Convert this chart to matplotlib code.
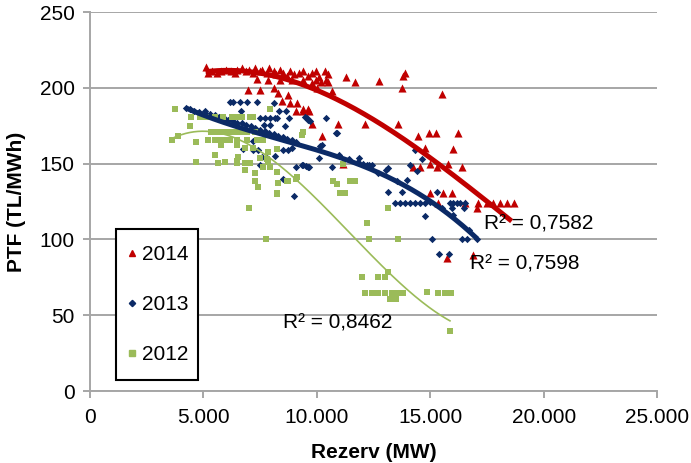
import numpy as np
import matplotlib
matplotlib.use("Agg")
import matplotlib.pyplot as plt
from matplotlib.lines import Line2D
from matplotlib.patches import Rectangle

plt.rcParams['font.family'] = ['Liberation Sans', 'DejaVu Sans']

# ---- data (Rezerv MW, PTF TL/MWh) ----
x2014 = [5100, 5200, 5400, 5600, 5800, 6000, 6200, 6400, 6500, 6700, 6900, 7000, 7200, 7300, 7500,
         7600, 7800, 7900, 8100, 8200, 8400, 8500, 8700, 8800, 9000, 9200, 9400, 9600, 9800, 9960,
         10100, 10360, 10500,
         7350, 7850, 8380, 8910, 9390, 9780, 9960, 10180, 10410, 10490,
         6970, 7500, 8110, 8290, 8730, 8450, 8820, 9110, 9080, 9380, 9640, 9790, 10230, 10010, 10650,
         11270, 11700, 12730, 13890, 13820, 13740, 15500, 9400, 9630, 10920, 12130, 13590, 14470,
         14950, 15240, 16230, 16010, 14770, 14250, 14550, 14990, 15290, 15800, 16390, 11160,
         14990, 15580, 15940, 15360, 16530, 17120, 17490, 17780, 18080, 18370, 18700, 17060,
         15730, 16890]
y2014 = [214, 210, 211, 210, 211, 212, 211, 210, 212, 213, 211, 212, 210, 213, 211,
         212, 210, 213, 211, 209, 212, 210, 208, 211, 209, 210, 211, 208, 210, 211,
         207, 211, 209,
         205.6, 205, 205, 205, 205, 203, 205, 204, 205, 204,
         198.5, 198.5, 200, 196.5, 195, 191, 190, 190, 185, 185, 185, 176, 168, 200, 198,
         207, 204, 204.5, 210, 208, 200, 196, 186, 186, 176, 176, 176, 168,
         170, 170, 170, 159.6, 160, 148, 148, 150, 148, 150, 148, 150,
         130.6, 130.6, 130.6, 124, 124, 124, 124, 124, 124, 124, 124, 120.7,
         88, 89.7]

x2013 = [4230, 4400, 4600, 4800, 5070, 5140, 5300, 5500, 5700, 5900, 6100, 6300, 6500, 6700, 6900,
         7100, 7300, 7500, 7700, 7900, 8100, 8300, 8500, 8700, 8900, 9100,
         6170, 6320, 6610, 6940, 7350, 8130, 6660, 8350, 8640, 7500, 7720, 7940, 8160, 8240, 8790,
         7690, 7940, 8600, 9550, 9700, 10410, 10880, 7200, 6760, 7200, 7420, 7570, 7790, 8160,
         8530, 8740, 8890, 7500, 9080, 9330, 9520, 9670, 10110, 10650, 8530, 9000, 10140, 11870,
         12200, 12420, 9480, 9630, 10850, 10220, 9400, 9600, 12050, 12320, 13050, 13120, 13520,
         13960, 14110, 14400, 14630, 14330, 13120, 13740, 15280, 13450, 13670, 13890, 14110,
         14330, 14550, 14770, 15870, 16010, 16170, 16310, 16530, 15940, 16480, 14770, 15060,
         16390, 16610, 17050, 15400, 15840, 11000, 11400, 11800, 12700, 15000, 15500, 16000, 16700]
y2013 = [187, 186, 185, 184, 185, 183, 182.5, 182, 181, 180, 179, 178, 177, 176.5, 175.5,
         174.5, 173.5, 172.5, 171.5, 170.5, 169.5, 168.5, 167.5, 166.5, 165.5, 164.5,
         190.4, 190.4, 190.4, 190.4, 190.4, 190, 185, 185, 185, 180, 180, 180, 180, 180, 180,
         175.5, 175.5, 175, 180, 178, 180, 170, 165, 159.5, 159, 159, 154.6, 153.7, 155,
         159, 159, 160, 149, 148, 149, 148.5, 148, 153.5, 147.5, 140, 128.6, 161.6, 153.5,
         149, 149, 181, 179, 170, 162, 149, 148, 150, 149, 146, 147, 138.5,
         139, 149, 145, 153, 159, 131.4, 131.4, 131.4, 124, 124, 124, 124,
         124, 124, 124, 124, 124, 124, 124, 124, 120.5, 120.5, 115.4, 100,
         100, 100, 100, 90.4, 90.4, 156, 153, 151, 144, 125, 121, 116, 106]

x2012 = [3750, 4410, 3600, 3890, 4700, 4700,
         4480, 4850, 5140, 5510, 5880, 6250, 6460, 6690, 7050, 7200, 7940,
         5360, 5580, 5800, 6030, 6250, 6470, 6690, 6910, 7270,
         5510, 5730, 5950, 6170, 6470, 6910, 7350, 7640, 5220, 5800, 6470, 6830, 7200, 8230,
         7860, 7500, 9380, 9330, 5510, 6540, 6470, 6470, 5660, 5950, 6830, 7050, 6830, 7280,
         7790, 7860, 7640, 7940, 7280, 7420, 8230, 8300, 8740, 8230, 9110, 7020, 7760,
         8260, 8670, 9080, 10730, 10880, 11460, 11680, 11020, 11240, 11170, 12220, 12310,
         13150, 13560, 11980, 12710, 13010, 13150, 12130, 12420, 12710, 13010, 13300, 13590, 13810,
         13230, 13490, 14840, 15360, 15650, 15900, 15870]
y2012 = [186, 175, 165.6, 168.4, 164, 150.8,
         181, 181, 181, 181, 181, 181, 181, 181, 181, 181, 186,
         171, 171, 171, 171, 171, 171, 171, 171, 171,
         165.5, 165.5, 165.5, 165.5, 165.5, 165.5, 165.5, 165.5, 165.6, 162, 162, 160, 160, 159.6,
         157.4, 153.5, 171, 169, 155.7, 154.6, 151.5, 150.5, 150.2, 151, 150.2, 150.2, 145.8, 143.6,
         153, 151, 148, 148, 138.5, 134.7, 144.7, 137, 138.5, 130.4, 141.4, 121, 100.6,
         130, 138.7, 140, 138.7, 136.5, 138.7, 138.7, 130.4, 130.4, 150, 110.6, 100.6,
         121, 100.6, 75.4, 75.4, 75.4, 78.7, 64.8, 64.8, 64.8, 64.8, 64.8, 64.8, 64.8,
         60.5, 60.5, 65.5, 64.4, 64.4, 64.4, 39.8]

# trendline points (polynomial trendlines)
trend2014_x = [5100, 8670, 9260, 10730, 12200, 13670, 15140, 16610, 18590]
trend2014_y = [210.6, 206, 202, 194, 182, 167.7, 151, 137, 111.7]
trend2013_x = [4230, 4560, 7500, 9260, 10430, 11900, 13370, 14850, 16020, 17060]
trend2013_y = [187, 184.2, 170, 162.6, 156.7, 149, 139, 127, 115, 100]
trend2012_x = [3660, 3970, 4850, 6030, 7350, 8230, 9260, 10430, 11610, 13080, 14700, 15870]
trend2012_y = [166.7, 169.5, 170.4, 168.9, 160, 150, 138, 119.4, 101.8, 79.8, 57.8, 46.4]

series_labels = ['2014', '2013', '2012']
r2_labels = ['R² = 0,7582', 'R² = 0,7598', 'R² = 0,8462']
x_ticks = [0, 5000, 10000, 15000, 20000, 25000]
x_tick_labels = ['0', '5.000', '10.000', '15.000', '20.000', '25.000']
y_ticks = [0, 50, 100, 150, 200, 250]

# ---- styles ----
c14, c13, c12 = '#C00000', '#0B2A66', '#9BBB59'

fig = plt.figure(figsize=(6.91, 4.63), dpi=100)
ax = fig.add_axes([0.130, 0.1555, 0.821, 0.8185])

ax.set_xlim(0, 25000)
ax.set_ylim(0, 250)
ax.set_yticks(y_ticks)
ax.set_xticks(x_ticks)
ax.set_xticklabels(x_tick_labels)
ax.yaxis.grid(True, color='#A6A6A6', linewidth=1.4)
ax.set_axisbelow(True)
for s in ['top', 'right']:
    ax.spines[s].set_visible(False)
for s in ['left', 'bottom']:
    ax.spines[s].set_color('#A6A6A6')
    ax.spines[s].set_linewidth(1.4)
ax.tick_params(axis='both', direction='out', length=5, width=1.4, color='#A6A6A6',
               labelsize=15, labelcolor='black', pad=6)
ax.tick_params(axis='x', pad=7.5)

ax.scatter(x2014, y2014, marker='^', s=34, color=c14, linewidths=0, zorder=3)
ax.scatter(x2013, y2013, marker='D', s=14, color=c13, linewidths=0, zorder=3)
ax.scatter(x2012, y2012, marker='s', s=20, color=c12, linewidths=0, zorder=3)

def trend(xs, ys):
    xs = np.asarray(xs, float)
    ys = np.asarray(ys, float)
    p = np.polyfit(xs, ys, 3)
    xx = np.linspace(xs.min(), xs.max(), 200)
    return xx, np.polyval(p, xx)

tx, ty = trend(trend2012_x, trend2012_y)
ax.plot(tx, ty, color=c12, lw=1.2, zorder=4)
tx, ty = trend(trend2013_x, trend2013_y)
ax.plot(tx, ty, color=c13, lw=3.6, zorder=4, solid_capstyle='butt')
tx, ty = trend(trend2014_x, trend2014_y)
ax.plot(tx, ty, color=c14, lw=3.6, zorder=4, solid_capstyle='butt')

ax.text(17370, 110.5, r2_labels[0], fontsize=15, va='center', ha='left', zorder=5)
ax.text(16760, 84.0, r2_labels[1], fontsize=15, va='center', ha='left', zorder=5)
ax.text(8520, 45.0, r2_labels[2], fontsize=15, va='center', ha='left', zorder=5)

ax.set_xlabel('Rezerv (MW)', fontsize=15, fontweight='bold', labelpad=11)
ax.set_ylabel('PTF (TL/MWh)', fontsize=15, fontweight='bold', labelpad=10)

# legend box
ax.add_patch(Rectangle((0.0459, 0.029), 0.1446, 0.3984, transform=ax.transAxes,
                       facecolor='white', edgecolor='black', linewidth=1.5, zorder=6))
handles = [Line2D([], [], ls='none', marker='^', ms=5, color=c14),
           Line2D([], [], ls='none', marker='D', ms=3.2, color=c13),
           Line2D([], [], ls='none', marker='s', ms=4, color=c12)]
leg = ax.legend(handles, series_labels, loc='center', bbox_to_anchor=(0.118, 0.228),
                fontsize=15, frameon=False, labelspacing=1.5,
                handlelength=0.6, handletextpad=0.18, borderpad=0, borderaxespad=0)
leg.set_zorder(7)

fig.savefig('out.png', dpi=100)
